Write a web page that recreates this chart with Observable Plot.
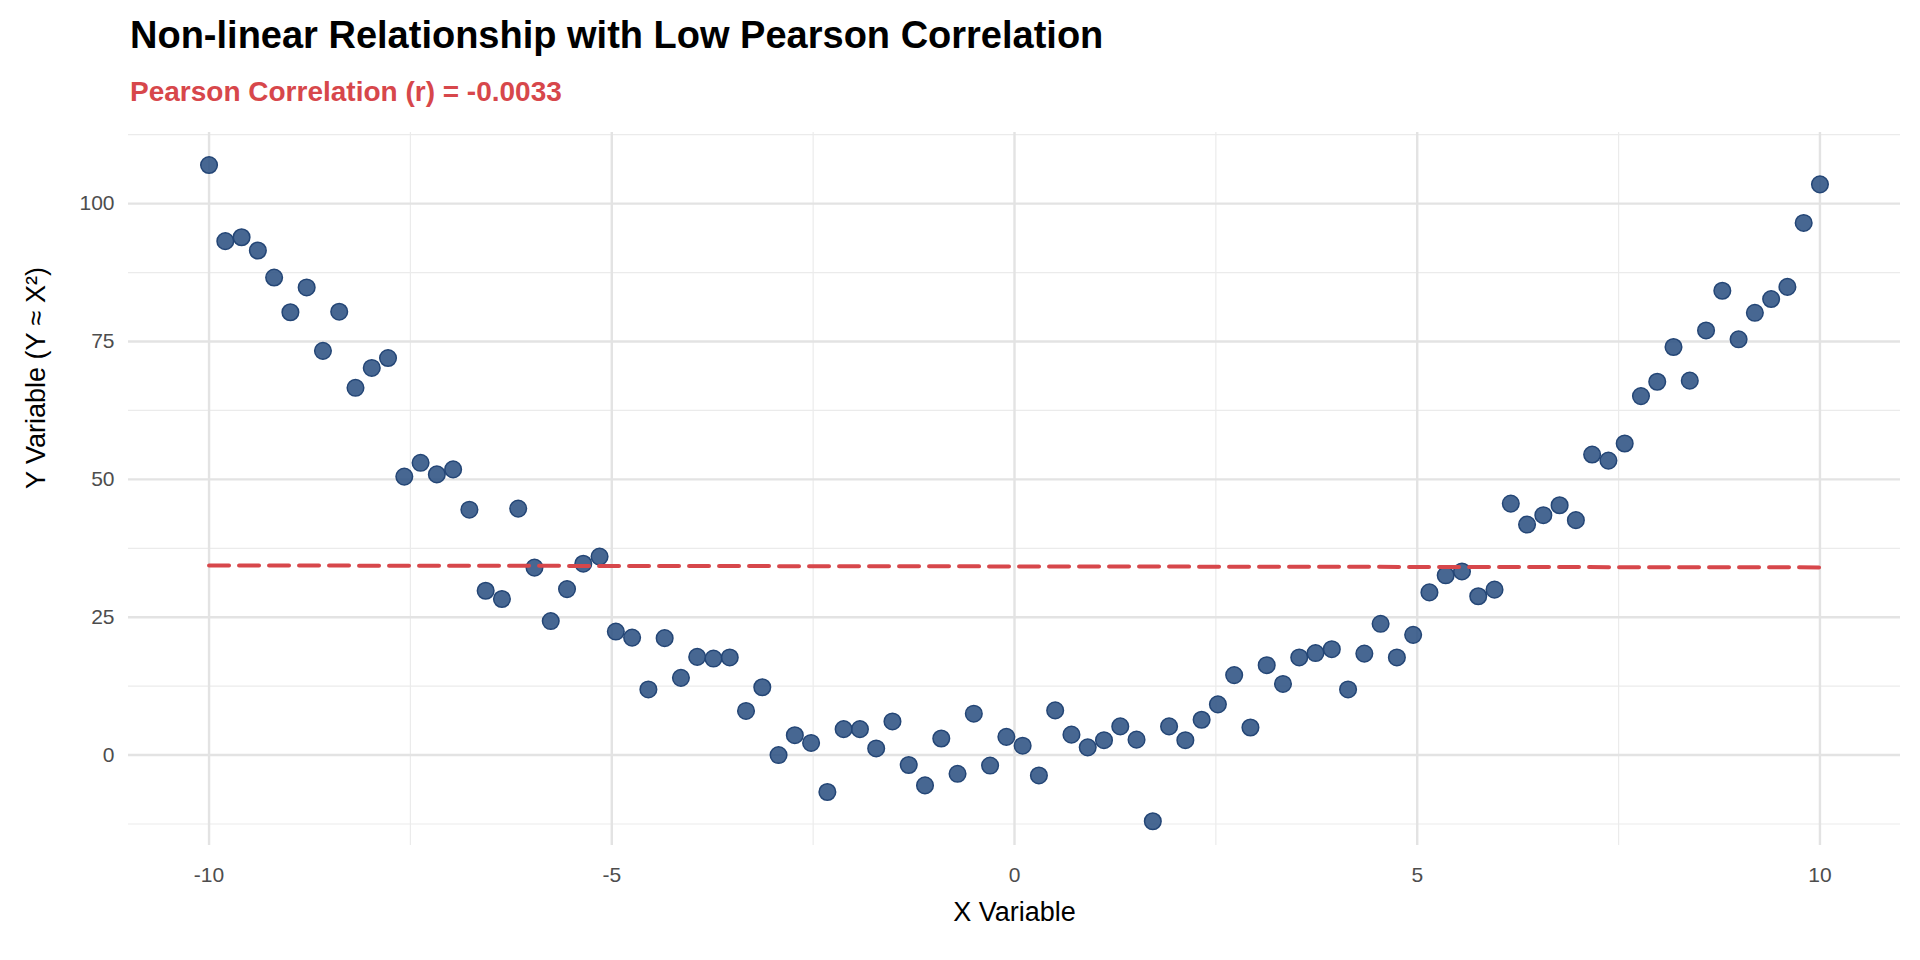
<!DOCTYPE html>
<html><head><meta charset="utf-8">
<script src="https://cdn.jsdelivr.net/npm/d3@7"></script>
<script src="https://cdn.jsdelivr.net/npm/@observablehq/plot@0.6"></script>
<style>
body{margin:0;background:#fff;font-family:"Liberation Sans",Arial,sans-serif}
#wrap{position:relative;width:1920px;height:960px}
#t{position:absolute;left:130px;top:14px;font-size:38px;font-weight:bold;color:#000}
#s{position:absolute;left:130px;top:76px;font-size:28px;font-weight:bold;color:#D7474B}
</style></head><body>
<div id="wrap"><div id="t">Non-linear Relationship with Low Pearson Correlation</div>
<div id="s">Pearson Correlation (r) = -0.0033</div><div id="c"></div></div>
<script>
const yValues = [107,93.2,93.9,91.5,86.6,80.3,84.8,73.3,80.4,66.6,70.2,72.0,50.5,53.0,50.9,51.8,44.5,29.8,28.3,44.7,
34.0,24.3,30.1,34.7,36.0,22.4,21.3,11.9,21.2,14.0,17.8,17.5,17.7,8.0,12.3,0.0,3.6,2.2,-6.7,4.7,
4.7,1.2,6.1,-1.8,-5.5,3.0,-3.4,7.5,-1.9,3.3,1.7,-3.7,8.1,3.7,1.4,2.7,5.2,2.8,-12.0,5.2,
2.7,6.4,9.2,14.5,5.0,16.3,12.9,17.7,18.5,19.2,11.9,18.4,23.8,17.7,21.8,29.5,32.6,33.3,28.8,30.0,
45.6,41.8,43.5,45.3,42.6,54.5,53.4,56.5,65.1,67.7,74.0,67.9,77.0,84.2,75.4,80.2,82.7,84.9,96.5,103.5];
const xValues = yValues.map((_, i) => -10 + i * 20 / 99);
const xTicks = [-10, -5, 0, 5, 10];
const yTicks = [0, 25, 50, 75, 100];
const xMinor = [-7.5, -2.5, 2.5, 7.5];
const yMinor = [-12.5, 12.5, 37.5, 62.5, 87.5, 112.5];
const data = yValues.map((y, i) => ({x: xValues[i], y}));
const mx = d3.mean(xValues), my = d3.mean(yValues);
const slope = d3.sum(data, d => (d.x - mx) * (d.y - my)) / d3.sum(data, d => (d.x - mx) ** 2);
const fit = [-10, 10].map(x => ({x, y: my + slope * (x - mx)}));
const chart = Plot.plot({
  width: 1920, height: 960, marginLeft: 128, marginRight: 20, marginTop: 132, marginBottom: 115,
  style: {fontFamily: "'Liberation Sans', Arial, sans-serif", fontSize: "21px", color: "#4D4D4D", background: "#fff"},
  x: {domain: [-11, 11]}, y: {domain: [-16.4, 112.9]},
  marks: [
    Plot.ruleX(xMinor, {stroke: "#EBEBEB", strokeWidth: 1.2}),
    Plot.ruleY(yMinor, {stroke: "#EBEBEB", strokeWidth: 1.2}),
    Plot.ruleX(xTicks, {stroke: "#E3E3E3", strokeWidth: 2.4}),
    Plot.ruleY(yTicks, {stroke: "#E3E3E3", strokeWidth: 2.4}),
    Plot.axisX(xTicks, {tickSize: 0, tickPadding: 22, label: null, fontSize: 21, tickFormat: d => d}),
    Plot.axisY(yTicks, {tickSize: 0, tickPadding: 14, label: null, fontSize: 21}),
    Plot.text(["X Variable"], {frameAnchor: "bottom", dy: 75, fontSize: 27, fill: "#000"}),
    Plot.text(["Y Variable (Y ≈ X²)"], {frameAnchor: "left", dx: -92, rotate: -90, fontSize: 27, fill: "#000"}),
    Plot.dot(data, {x: "x", y: "y", r: 8.3, fill: "#2E5283", fillOpacity: 0.88, stroke: "#244676", strokeWidth: 1.5}),
    Plot.line(fit, {x: "x", y: "y", stroke: "#D7474B", strokeWidth: 4, strokeDasharray: "20,10"})
  ]
});
document.getElementById("c").appendChild(chart);
</script></body></html>
